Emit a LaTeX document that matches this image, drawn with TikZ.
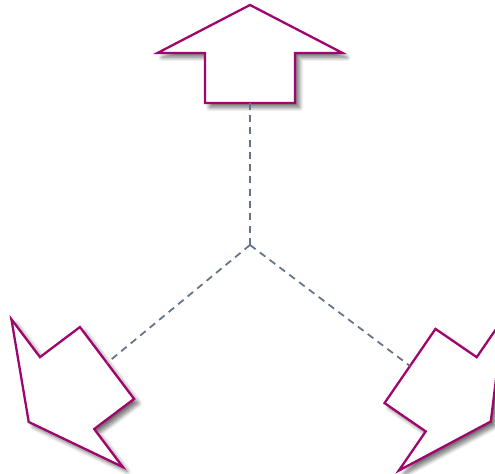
\documentclass[tikz,border=0pt]{standalone}
\usepackage{tikz}
\usepackage{xcolor}
\usetikzlibrary{shadows.blur}
\definecolor{plum}{HTML}{A0056E}
\definecolor{slate}{HTML}{66728A}

\begin{document}
\begin{tikzpicture}[
  arrowline/.style={
    draw=plum, fill=white, line width=1.3pt, line join=miter,
    blur shadow={shadow xshift=0.09cm, shadow yshift=-0.09cm, shadow blur steps=8, shadow blur radius=0.08cm, shadow opacity=55}
  },
  spoke/.style={slate, line width=1pt, dash pattern=on 4pt off 3pt},
  bigarrow/.pic={
    %% tail sits at the pic origin, tip points along +x
    \coordinate (-tail) at (0,0);
    \draw[arrowline] (0,-0.9) -- (1.0,-0.9) -- (1.0,-1.85) -- (1.96,0)
      -- (1.0,1.85) -- (1.0,0.9) -- (0,0.9) -- cycle;
  }
]
\useasboundingbox (0,0) rectangle (9.9,9.48);

%% Hub in the middle
\coordinate (hub) at (5.0,4.58);

%% The three arrows
\pic[rotate=90] (up) at (5.0,7.42) {bigarrow};
\pic[rotate=217] (left) at (2.14,2.22) {bigarrow};
\pic[rotate=325.5] (right) at (8.2,2.16) {bigarrow};

%% Dashed spokes
\draw[spoke] (hub) -- (up-tail);
\draw[spoke] (hub) -- (left-tail);
\draw[spoke] (hub) -- (right-tail);

\end{tikzpicture}
\end{document}
